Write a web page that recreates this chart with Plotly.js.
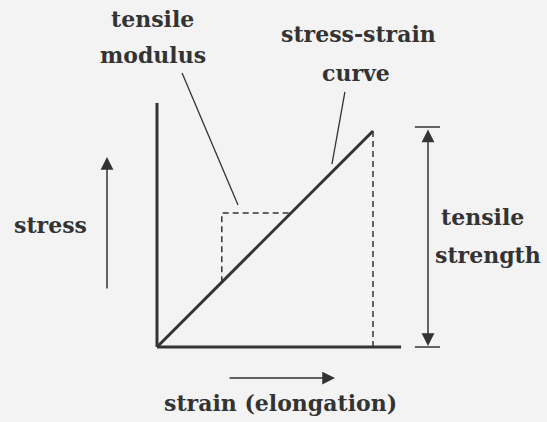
<!DOCTYPE html>
<html>
<head>
<meta charset="utf-8">
<script src="https://cdn.plot.ly/plotly-3.0.1.min.js"></script>
<style>html,body{margin:0;padding:0;background:#f3f3f3;}#chart{width:547px;height:422px;}</style>
</head>
<body>
<div id="chart"></div>
<script>
// Conceptual diagram data (strain, stress in normalised units)
const curveStrain = [0, 1];
const curveStress = [0, 1];
const modulusStrain = [0.3, 0.3, 0.62];
const modulusStress = [0.3, 0.62, 0.62];
const breakStrain = [1, 1];
const breakStress = [1, 0];
const axisLength = 1.13;
const modulusLeaderX = [0.116, 0.375];
const modulusLeaderY = [1.268, 0.657];
const curveLeaderX = [0.87, 0.81];
const curveLeaderY = [1.181, 0.847];
const modulusLabel = ["tensile", "modulus"];
const curveLabel = ["stress-strain", "curve"];
const strengthLabel = ["tensile", "strength"];
const stressLabel = "stress";
const strainLabel = "strain (elongation)";

const ink = '#333333';
const font = {family: 'DejaVu Serif', size: 22, color: ink, weight: 'bold'};

const traces = [
  {x: [0, 0], y: [0, axisLength], mode: 'lines', line: {color: ink, width: 3}},
  {x: [0, axisLength], y: [0, 0], mode: 'lines', line: {color: ink, width: 3}},
  {x: curveStrain, y: curveStress, mode: 'lines', line: {color: ink, width: 3}},
  {x: modulusStrain, y: modulusStress, mode: 'lines', line: {color: ink, width: 1.5, dash: '6px,4px'}},
  {x: breakStrain, y: breakStress, mode: 'lines', line: {color: ink, width: 1.5, dash: '6px,4px'}},
  {x: modulusLeaderX, y: modulusLeaderY, mode: 'lines', line: {color: ink, width: 1.3}},
  {x: curveLeaderX, y: curveLeaderY, mode: 'lines', line: {color: ink, width: 1.3}}
];

function txt(t, x, y) {
  return {text: '<b>' + t + '</b>', x: x, y: y, xref: 'x', yref: 'y', showarrow: false, font: font};
}
function arrow(x, y, ax, ay) {
  return {x: x, y: y, ax: ax, ay: ay, xref: 'x', yref: 'y', axref: 'x', ayref: 'y', text: '',
    showarrow: true, arrowhead: 2, arrowsize: 1.7, arrowwidth: 1.5, arrowcolor: ink};
}
const annotations = [
  txt(modulusLabel[0], -0.023, 1.52),
  txt(modulusLabel[1], -0.019, 1.35),
  txt(curveLabel[0], 0.931, 1.45),
  txt(curveLabel[1], 0.921, 1.27),
  txt(strengthLabel[0], 1.509, 0.6),
  txt(strengthLabel[1], 1.532, 0.425),
  txt(stressLabel, -0.491, 0.565),
  txt(strainLabel, 0.574, -0.26),
  arrow(-0.2315, 0.88, -0.2315, 0.264),
  arrow(0.824, -0.1435, 0.329, -0.1435),
  Object.assign(arrow(1.2546, 0.005, 1.2546, 1.0135), {arrowside: 'end+start'})
];

const shapes = [
  {type: 'line', xref: 'x', yref: 'y', x0: 1.194, x1: 1.31, y0: 1.0185, y1: 1.0185, line: {color: ink, width: 1.5}},
  {type: 'line', xref: 'x', yref: 'y', x0: 1.194, x1: 1.31, y0: 0, y1: 0, line: {color: ink, width: 1.5}}
];

const layout = {
  width: 547, height: 422,
  margin: {l: 0, r: 0, t: 0, b: 0},
  paper_bgcolor: '#f3f3f3', plot_bgcolor: '#f3f3f3',
  showlegend: false,
  xaxis: {range: [-157/216, 390/216], visible: false, fixedrange: true},
  yaxis: {range: [-75/216, 347/216], visible: false, fixedrange: true},
  annotations: annotations,
  shapes: shapes
};
Plotly.newPlot('chart', traces, layout, {displayModeBar: false, staticPlot: true});
</script>
</body>
</html>
